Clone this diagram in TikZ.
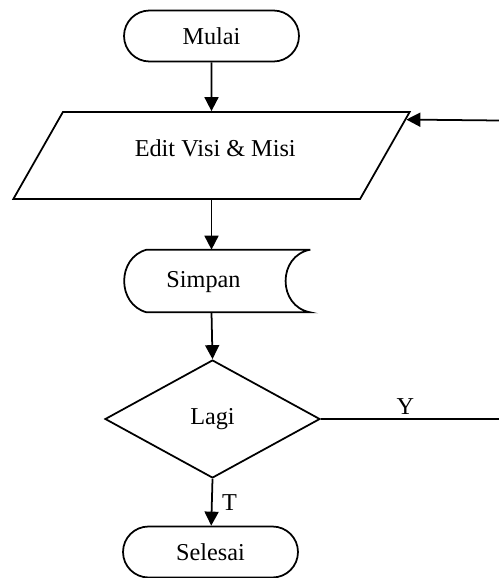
\documentclass[tikz,border=0pt]{standalone}
\usepackage{fontspec}
\setmainfont{Liberation Serif}
\usetikzlibrary{calc,arrows.meta,shapes.geometric,shapes.misc}
\tikzset{
	line/.style={line width=1pt},
	arr/.style={line width=1pt, -{Triangle[length=0.28cm,width=0.28cm]}},
	terminal/.style={rounded rectangle, draw, line width=1pt, minimum width=3.5cm, minimum height=1.02cm, inner sep=0},
	io/.style={trapezium, trapezium stretches=true, trapezium left angle=48.1, trapezium right angle=131.9, draw, line width=1pt, minimum width=7.94cm, minimum height=1.74cm, inner sep=0},
	store/.style={rectangle, minimum width=3.86cm, minimum height=1.24cm, inner sep=0},
	choice/.style={diamond, draw, line width=1pt, minimum width=4.3cm, minimum height=2.36cm, inner sep=0, aspect=1.82}
}

\begin{document}
\begin{tikzpicture}[x=0.02cm, y=-0.02cm, font=\fontsize{13.8}{16}\selectfont]
			%%%%% START %%%%%
			\useasboundingbox (0, 0) rectangle (499, 578);
			
			\node[terminal] (mulai) at (211.5, 36) {Mulai};
			\node[io] (edit) at (211.5, 155.5) {\hspace{0.15cm}\raisebox{1.3ex}{Edit Visi \& Misi}};
			\node[store] (simpan) at (213.5, 281) {};
			\node[choice] (lagi) at (212.5, 419) {\raisebox{0.4ex}{Lagi}};
			\node[terminal] (selesai) at (210.5, 552) {Selesai};
			
			% simpan shape
			\draw[line] (simpan.north east) -- ($(simpan.north west)+(30, 0)$)
				.. controls ($(simpan.north west)+(0, 8)$) and ($(simpan.south west)+(0, -8)$) .. ($(simpan.south west)+(30, 0)$)
				-- (simpan.south east)
				.. controls ($(simpan.south east)+(-33, -6)$) and ($(simpan.north east)+(-33, 6)$) .. (simpan.north east);
			\node at ($(simpan)+(-10, 1)$) {Simpan};
			
			\coordinate (kanan1) at (499, 120.5);
			\coordinate (kanan2) at (499, 419);
			
			\draw[arr] (mulai) -- (edit.north -| mulai);
			\draw[arr] (edit.south -| mulai) -- (simpan.north -| mulai);
			\draw[arr] (simpan.south -| mulai) -- (lagi.north);
			\draw[arr] (lagi.south) -- node[right, xshift=2pt] {T} (selesai);
			\draw[line] (lagi.east) -- node[above, pos=0.475, yshift=-1pt] {Y} (kanan2);
			\draw[arr] (kanan1) -- ($(edit.top right corner)!0.095!(edit.bottom right corner)$);
			
			%%%%% END %%%%%
		\end{tikzpicture}
\end{document}
